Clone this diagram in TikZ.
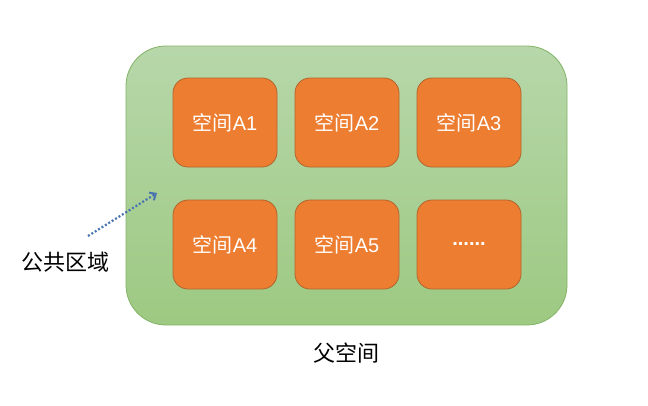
\documentclass[tikz,border=0pt]{standalone}
\usepackage{fontspec}
\setmainfont{Liberation Sans}
\newfontfamily\cjk{Noto Sans CJK SC}
\usetikzlibrary{arrows.meta}
\definecolor{gtop}{RGB}{183,215,170}
\definecolor{gbot}{RGB}{157,201,130}
\definecolor{gborder}{RGB}{130,179,102}
\definecolor{ofill}{RGB}{237,125,49}
\definecolor{oborder}{RGB}{178,100,44}
\definecolor{arrowc}{RGB}{74,116,176}
\tikzset{
  cell/.style={draw=oborder, line width=0.8pt, fill=ofill, rounded corners=15pt,
    minimum width=104pt, minimum height=89pt, inner sep=0pt, text=white,
    font=\fontsize{20}{24}\selectfont},
  lbl/.style={font=\cjk\fontsize{22}{26}\selectfont, text=black},
}
\begin{document}
\begin{tikzpicture}[x=1pt,y=-1pt]
\useasboundingbox (0,0) rectangle (648,405);
\node[draw=gborder, line width=0.8pt, top color=gtop, bottom color=gbot, rounded corners=40pt,
  minimum width=441pt, minimum height=279pt, inner sep=0pt] (parent) at (346.5,185.5) {};
\node[cell] (a1) at (225,122.5) {{\cjk 空间}A1};
\node[cell] (a2) at (347,122.5) {{\cjk 空间}A2};
\node[cell] (a3) at (469,122.5) {{\cjk 空间}A3};
\node[cell] (a4) at (225,244.5) {{\cjk 空间}A4};
\node[cell] (a5) at (347,244.5) {{\cjk 空间}A5};
\node[cell] (a6) at (469,244.5) {\bfseries......};
\node[lbl] (pub) at (65,262) {公共区域};
\node[lbl] (ptxt) at (346,353) {父空间};
\coordinate (as) at (88,236);
\coordinate (ae) at (157,193);
\draw[arrowc, line width=2.2pt, dash pattern=on 2pt off 2pt, -{Straight Barb[length=5pt,width=9pt,line width=2pt]}] (as) -- (ae);
\end{tikzpicture}
\end{document}
